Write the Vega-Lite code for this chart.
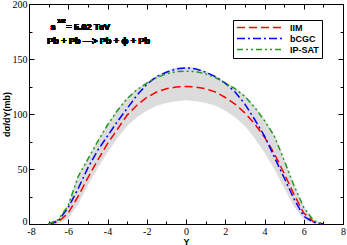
{
  "$schema": "https://vega.github.io/schema/vega-lite/v6.json",
  "width": 314,
  "height": 220,
  "autosize": {"type": "none"},
  "padding": {"left": 29, "top": 4, "right": 4, "bottom": 21},
  "background": "white",
  "config": {
    "view": {"stroke": "black", "strokeWidth": 1},
    "axis": {
      "domainColor": "black", "tickColor": "black", "labelColor": "black",
      "labelFont": "Liberation Serif", "labelFontSize": 10, "labelFontWeight": "normal",
      "titleFont": "Liberation Sans", "titleFontSize": 9, "titleFontWeight": "bold", "titleColor": "black",
      "grid": false
    }
  },
  "data": {"values": [
    {"Y": -7, "iim": 0, "bcgc": 0, "ipsat": 0, "lo": 0, "hi": 0},
    {"Y": -6.5, "iim": 2, "bcgc": 3, "ipsat": 4, "lo": 0.5, "hi": 5},
    {"Y": -6, "iim": 10, "bcgc": 15, "ipsat": 17, "lo": 5, "hi": 18},
    {"Y": -5.5, "iim": 25, "bcgc": 32, "ipsat": 43, "lo": 18, "hi": 44},
    {"Y": -5, "iim": 42, "bcgc": 51, "ipsat": 59, "lo": 35, "hi": 60},
    {"Y": -4.5, "iim": 58, "bcgc": 67, "ipsat": 75, "lo": 51, "hi": 76},
    {"Y": -4, "iim": 73, "bcgc": 80, "ipsat": 90, "lo": 65, "hi": 91},
    {"Y": -3.5, "iim": 86, "bcgc": 93, "ipsat": 103, "lo": 78, "hi": 104},
    {"Y": -3, "iim": 99, "bcgc": 105, "ipsat": 114, "lo": 89, "hi": 115},
    {"Y": -2.5, "iim": 108, "bcgc": 117, "ipsat": 122, "lo": 97, "hi": 123},
    {"Y": -2, "iim": 115, "bcgc": 127, "ipsat": 128, "lo": 103, "hi": 129},
    {"Y": -1.5, "iim": 120, "bcgc": 134, "ipsat": 133, "lo": 107.5, "hi": 135},
    {"Y": -1, "iim": 123, "bcgc": 138, "ipsat": 136.5, "lo": 110, "hi": 139},
    {"Y": -0.5, "iim": 124.5, "bcgc": 141, "ipsat": 138.5, "lo": 111.5, "hi": 142},
    {"Y": 0, "iim": 125, "bcgc": 142, "ipsat": 139, "lo": 112.5, "hi": 143},
    {"Y": 0.5, "iim": 124.5, "bcgc": 141, "ipsat": 138.5, "lo": 111.5, "hi": 142},
    {"Y": 1, "iim": 123, "bcgc": 138, "ipsat": 136.5, "lo": 110, "hi": 139},
    {"Y": 1.5, "iim": 120, "bcgc": 134, "ipsat": 133, "lo": 107.5, "hi": 135},
    {"Y": 2, "iim": 115, "bcgc": 128, "ipsat": 128, "lo": 103, "hi": 129},
    {"Y": 2.5, "iim": 109, "bcgc": 120, "ipsat": 123, "lo": 97, "hi": 124},
    {"Y": 3, "iim": 101, "bcgc": 109, "ipsat": 116, "lo": 89, "hi": 117},
    {"Y": 3.5, "iim": 91, "bcgc": 95, "ipsat": 106, "lo": 78, "hi": 107},
    {"Y": 4, "iim": 79, "bcgc": 80, "ipsat": 94, "lo": 65, "hi": 95},
    {"Y": 4.5, "iim": 64, "bcgc": 61, "ipsat": 80, "lo": 50, "hi": 81},
    {"Y": 5, "iim": 46, "bcgc": 42, "ipsat": 58, "lo": 33, "hi": 59},
    {"Y": 5.5, "iim": 27, "bcgc": 23, "ipsat": 35, "lo": 16, "hi": 36},
    {"Y": 6, "iim": 10, "bcgc": 7, "ipsat": 15, "lo": 4, "hi": 16},
    {"Y": 6.5, "iim": 2, "bcgc": 1.5, "ipsat": 3, "lo": 0.5, "hi": 4},
    {"Y": 7, "iim": 0, "bcgc": 0, "ipsat": 0, "lo": 0, "hi": 0}
  ]},
  "resolve": {"axis": {"x": "independent", "y": "independent"}},
  "layer": [
    {
      "mark": {"type": "area", "color": "#dcdcdc", "opacity": 1},
      "encoding": {
        "x": {"field": "Y", "type": "quantitative", "scale": {"domain": [-8, 8], "nice": false, "zero": false},
          "axis": {"orient": "bottom", "title": "Y", "values": [-8,-7,-6,-5,-4,-3,-2,-1,0,1,2,3,4,5,6,7,8],
            "tickSize": {"condition": {"test": "datum.value % 2 !== 0", "value": -3}, "value": -5},
            "labelOffset": {"condition": {"test": "datum.value === -8", "value": 2}, "value": 0},
            "labelExpr": "datum.value % 2 === 0 ? '' + datum.value : ''", "labelPadding": 7, "titlePadding": -1, "labelFlush": false, "labelOverlap": false}},
        "y": {"field": "lo", "type": "quantitative", "scale": {"domain": [0, 200], "nice": false},
          "axis": {"orient": "left", "title": "dσ/dY(mb)", "values": [0,25,50,75,100,125,150,175,200],
            "tickSize": {"condition": {"test": "datum.value % 50 !== 0", "value": -3}, "value": -5},
            "labelOffset": {"condition": {"test": "datum.value === 0", "value": -3}, "value": 0},
            "labelExpr": "datum.value % 50 === 0 ? '' + datum.value : ''", "labelPadding": 7, "titlePadding": 1, "labelFlush": false, "labelOverlap": false}},
        "y2": {"field": "hi"}
      }
    },
    {
      "transform": [{"fold": ["iim", "bcgc", "ipsat"], "as": ["key", "v"]},
        {"lookup": "key", "from": {"data": {"values": [{"key": "iim", "model": "IIM"}, {"key": "bcgc", "model": "bCGC"}, {"key": "ipsat", "model": "IP-SAT"}]}, "key": "key", "fields": ["model"]}}],
      "mark": {"type": "line", "strokeWidth": 1.5},
      "encoding": {
        "x": {"field": "Y", "type": "quantitative",
          "axis": {"orient": "top", "title": null, "values": [-8,-7,-6,-5,-4,-3,-2,-1,0,1,2,3,4,5,6,7,8],
            "tickSize": {"condition": {"test": "datum.value % 2 !== 0", "value": -3}, "value": -5}, "labels": false}},
        "y": {"field": "v", "type": "quantitative",
          "axis": {"orient": "right", "title": null, "values": [0,25,50,75,100,125,150,175,200],
            "tickSize": {"condition": {"test": "datum.value % 50 !== 0", "value": -3}, "value": -5}, "labels": false}},
        "color": {"field": "model", "type": "nominal",
          "scale": {"domain": ["IIM", "bCGC", "IP-SAT"], "range": ["#ff0000", "#0000ff", "#1f9a1f"]},
          "legend": {"orient": "none", "legendX": 204, "legendY": 16, "title": null, "symbolType": "stroke", "symbolSize": 2116,
            "clipHeight": 9, "symbolStrokeWidth": 1.5, "strokeColor": "black", "fillColor": "white", "padding": 3, "rowPadding": 1,
            "labelFont": "Liberation Sans", "labelFontWeight": "bold", "labelFontSize": 9, "labelColor": "black", "labelOffset": 6}},
        "strokeDash": {"field": "model", "type": "nominal",
          "scale": {"domain": ["IIM", "bCGC", "IP-SAT"], "range": [[8, 4], [8, 3, 2, 3], [6, 3, 2, 3, 2, 3]]}},
        "order": {"field": "Y", "type": "quantitative"}
      }
    },
    {
      "mark": {"type": "text", "font": "Liberation Sans", "fontWeight": "bold", "fontSize": 9, "align": "left", "baseline": "middle", "color": "black"},
      "encoding": {"x": {"datum": -6.91, "type": "quantitative", "axis": null}, "y": {"datum": 179, "type": "quantitative", "axis": null}, "text": {"value": "s"}}
    },
    {
      "mark": {"type": "text", "font": "Liberation Sans", "fontWeight": "bold", "fontSize": 6, "align": "left", "baseline": "middle", "color": "black"},
      "encoding": {"x": {"datum": -6.56, "type": "quantitative", "axis": null}, "y": {"datum": 185, "type": "quantitative", "axis": null}, "text": {"value": "1/2"}}
    },
    {
      "mark": {"type": "text", "font": "Liberation Sans", "fontWeight": "bold", "fontSize": 9, "align": "left", "baseline": "middle", "color": "black"},
      "encoding": {"x": {"datum": -6.1, "type": "quantitative", "axis": null}, "y": {"datum": 179, "type": "quantitative", "axis": null}, "text": {"value": "= 5.02 TeV"}}
    },
    {
      "mark": {"type": "text", "font": "Liberation Sans", "fontWeight": "bold", "fontSize": 9, "align": "left", "baseline": "middle", "color": "black"},
      "encoding": {"x": {"datum": -7.07, "type": "quantitative", "axis": null}, "y": {"datum": 166.5, "type": "quantitative", "axis": null}, "text": {"value": "Pb + Pb —> Pb + ϕ + Pb"}}
    }
  ]
}
